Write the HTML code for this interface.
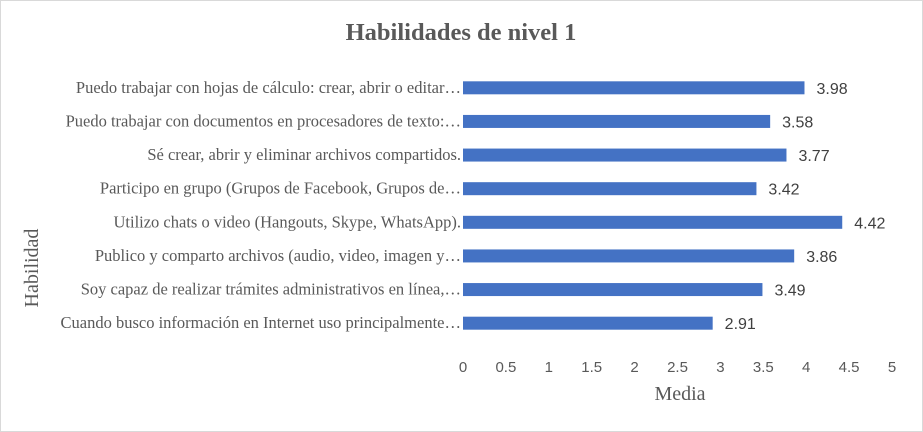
<!DOCTYPE html>
<html><head><meta charset="utf-8">
<style>
html,body{margin:0;padding:0;background:#fff;}
#chart{position:relative;width:923px;height:432px;}
svg{display:block;}
</style></head>
<body>
<div id="chart">
<svg id="svg" width="923" height="432" xmlns="http://www.w3.org/2000/svg">
<rect x="0.5" y="0.5" width="922" height="431" fill="#fff" stroke="#d9d9d9"/>
<text x="461" y="40" text-anchor="middle" font-family="Liberation Serif, serif" font-weight="bold" font-size="24.5" fill="#595959">Habilidades de nivel 1</text>
<text x="680" y="400" text-anchor="middle" font-family="Liberation Serif, serif" font-size="20" fill="#595959">Media</text>
<text transform="translate(38,268) rotate(-90)" text-anchor="middle" font-family="Liberation Serif, serif" font-size="20" fill="#595959">Habilidad</text>
<g id="plot"></g>
</svg>
</div>
<script>
const categories = [
 "Puedo trabajar con hojas de cálculo: crear, abrir o editar…",
 "Puedo trabajar con documentos en procesadores de texto:…",
 "Sé crear, abrir y eliminar archivos compartidos.",
 "Participo en grupo (Grupos de Facebook, Grupos de…",
 "Utilizo chats o video (Hangouts, Skype, WhatsApp).",
 "Publico y comparto archivos (audio, video, imagen y…",
 "Soy capaz de realizar trámites administrativos en línea,…",
 "Cuando busco información en Internet uso principalmente…"
];
const values = [3.98, 3.58, 3.77, 3.42, 4.42, 3.86, 3.49, 2.91];
const valueLabels = ["3.98","3.58","3.77","3.42","4.42","3.86","3.49","2.91"];
const ticks = [0,0.5,1,1.5,2,2.5,3,3.5,4,4.5,5];
const tickLabels = ["0","0.5","1","1.5","2","2.5","3","3.5","4","4.5","5"];

const NS="http://www.w3.org/2000/svg";
const plotG=document.getElementById('plot');
const x0=463,x1=892,plotTop=71,plotBottom=340;
const xScale=v=>x0+(v-ticks[0])/(ticks[ticks.length-1]-ticks[0])*(x1-x0);
const band=(plotBottom-plotTop)/categories.length;
const yScale=i=>plotTop+band*(i+0.5);
function mk(tag,attrs,txt){const e=document.createElementNS(NS,tag);for(const k in attrs)e.setAttribute(k,attrs[k]);if(txt!=null)e.textContent=txt;plotG.appendChild(e);return e;}
ticks.forEach((t,i)=>{
 const e=mk('text',{x:xScale(t),y:372,'text-anchor':'middle','font-family':'Liberation Sans, sans-serif','font-size':15,fill:'#595959'},tickLabels[i]);
 
 
});
categories.forEach((c,i)=>{
 const y=yScale(i);
 const l=mk('text',{x:461,y:y+5,'text-anchor':'end','font-family':'Liberation Serif, serif','font-size':16.5,fill:'#595959'},c);
 
 
 const b=mk('rect',{x:x0,y:y-6.5,width:xScale(values[i])-x0,height:13,fill:'#4472c4'});
 
 
 const v=mk('text',{x:xScale(values[i])+12,y:y+6,'font-family':'Liberation Sans, sans-serif','font-size':16,fill:'#404040'},valueLabels[i]);
 
 
});
</script>
</body></html>
